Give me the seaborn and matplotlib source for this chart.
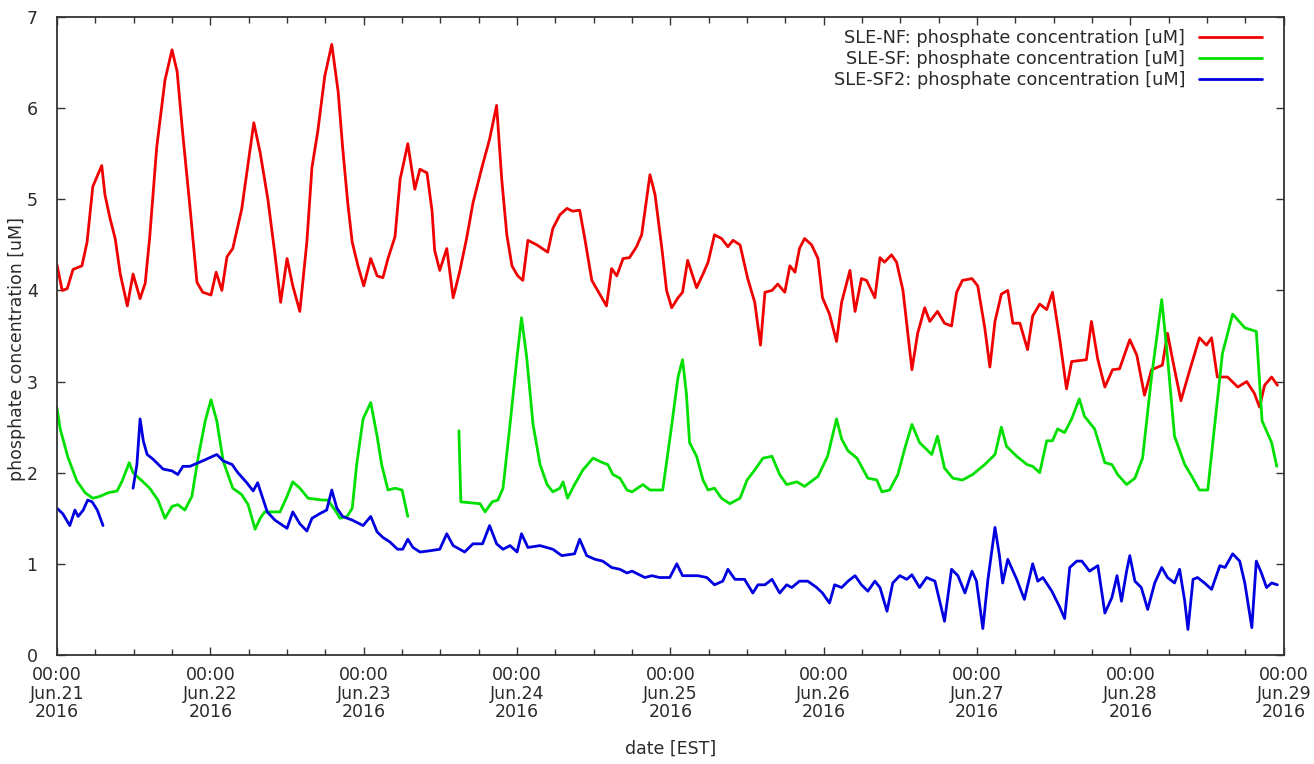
import numpy as np
import pandas as pd
import matplotlib
matplotlib.use("Agg")
import matplotlib.pyplot as plt
import matplotlib.dates as mdates
import seaborn as sns

# hours after 2016-06-21 00:00 EST, phosphate concentration [uM]; NaN marks a gap
nf_hours = [0.0, 0.8, 1.6, 2.5, 3.9, 4.7, 5.6, 7.0, 7.5, 8.3, 9.1, 9.9, 11.0, 11.9, 13.0, 13.8,
            14.5, 15.6, 16.9, 18.0, 18.8, 19.7, 20.8, 21.9, 22.8, 24.1, 24.9, 25.8, 26.6, 27.5,
            28.9, 29.9, 30.8, 31.8, 33.0, 34.1, 35.0, 36.0, 36.9, 38.0, 39.1, 39.9, 40.8, 41.9,
            43.0, 44.0, 44.7, 45.5, 46.2, 47.1, 48.0, 49.1, 50.1, 51.0, 51.8, 52.9, 53.7, 54.9,
            56.0, 56.8, 57.9, 58.7, 59.1, 59.9, 61.0, 62.0, 63.0, 64.1, 65.1, 66.5, 67.7, 68.8,
            69.6, 70.4, 71.2, 72.1, 72.9, 73.7, 75.1, 76.8, 77.6, 78.7, 79.8, 80.7, 81.8, 82.6,
            83.7, 84.6, 86.0, 86.8, 87.6, 88.6, 89.6, 90.7, 91.5, 92.8, 93.6, 94.7, 95.4, 96.2,
            97.2, 97.9, 98.7, 100.1, 101.1, 101.9, 102.9, 104.0, 105.0, 105.8, 106.9, 108.1,
            109.2, 110.1, 110.8, 111.9, 112.8, 113.9, 114.7, 115.5, 116.2, 117.0, 118.1, 119.1,
            119.8, 120.9, 122.0, 122.8, 124.1, 124.9, 125.9, 126.7, 128.0, 128.8, 129.5, 130.6,
            131.4, 132.4, 133.1, 133.8, 134.7, 135.8, 136.6, 137.8, 138.9, 140.0, 140.8, 141.7,
            143.2, 144.1, 145.2, 146.0, 146.8, 147.8, 148.8, 149.6, 150.7, 151.9, 152.7, 153.8,
            154.9, 155.8, 156.9, 158.0, 158.8, 161.1, 161.9, 162.9, 164.0, 165.2, 166.3, 167.9,
            169.0, 170.2, 171.3, 173.0, 173.8, 174.6, 175.9, 177.3, 178.8, 179.9, 180.7, 181.6,
            183.2, 184.8, 186.2, 187.4, 188.2, 189.0, 190.1, 191.0]
nf_values = [4.28, 4.00, 4.02, 4.23, 4.27, 4.53, 5.14, 5.37, 5.05, 4.79, 4.57, 4.18, 3.83, 4.18,
             3.91, 4.08, 4.58, 5.57, 6.31, 6.64, 6.40, 5.70, 4.92, 4.09, 3.98, 3.95, 4.20, 4.00,
             4.37, 4.46, 4.89, 5.39, 5.84, 5.51, 5.00, 4.40, 3.87, 4.35, 4.05, 3.77, 4.53, 5.35,
             5.74, 6.35, 6.70, 6.18, 5.57, 4.96, 4.53, 4.27, 4.05, 4.35, 4.16, 4.14, 4.35, 4.59,
             5.22, 5.61, 5.11, 5.33, 5.29, 4.87, 4.44, 4.22, 4.46, 3.92, 4.20, 4.57, 4.96, 5.35,
             5.66, 6.03, 5.22, 4.61, 4.27, 4.16, 4.11, 4.55, 4.50, 4.42, 4.68, 4.83, 4.90, 4.87,
             4.88, 4.57, 4.11, 4.00, 3.83, 4.24, 4.16, 4.35, 4.36, 4.48, 4.61, 5.27, 5.05, 4.44,
             4.00, 3.81, 3.92, 3.98, 4.33, 4.03, 4.18, 4.31, 4.61, 4.57, 4.48, 4.55, 4.50, 4.13,
             3.87, 3.40, 3.98, 4.00, 4.07, 3.98, 4.27, 4.20, 4.46, 4.57, 4.50, 4.35, 3.92, 3.74,
             3.44, 3.87, 4.22, 3.77, 4.13, 4.11, 3.92, 4.36, 4.31, 4.39, 4.31, 4.00, 3.57, 3.13,
             3.53, 3.81, 3.66, 3.77, 3.64, 3.61, 3.98, 4.11, 4.13, 4.05, 3.59, 3.16, 3.66, 3.96,
             4.00, 3.64, 3.64, 3.35, 3.72, 3.85, 3.79, 3.98, 3.48, 2.92, 3.22, 3.24, 3.66, 3.24,
             2.94, 3.13, 3.14, 3.46, 3.29, 2.85, 3.13, 3.18, 3.53, 3.24, 2.79, 3.13, 3.48, 3.40,
             3.48, 3.05, 3.05, 2.94, 3.00, 2.87, 2.72, 2.96, 3.05, 2.96]

sf_hours = [0.0, 0.5, 1.7, 3.1, 4.4, 5.6, 6.7, 8.0, 9.4, 10.2, 11.3, 11.9, 13.3, 14.5, 15.8, 16.9,
            18.0, 18.9, 20.0, 21.1, 22.1, 23.2, 24.1, 25.0, 26.0, 27.5, 28.9, 29.9, 31.0, 31.8,
            32.5, 34.9, 36.0, 36.9, 38.0, 39.3, 41.5, 42.4, 43.5, 44.3, 45.4, 46.2, 46.9, 47.9,
            49.1, 50.1, 50.8, 51.8, 52.9, 54.0, 54.9, 58.0,
            62.9, 63.2, 66.2, 67.0, 68.1, 69.0, 69.8, 70.9, 72.0, 72.7, 73.5, 74.5, 75.6, 76.7,
            77.6, 78.7, 79.2, 79.9, 81.0, 82.3, 83.9, 85.4, 86.2, 87.0, 88.1, 89.2, 90.0, 91.7,
            92.8, 94.8, 96.2, 97.2, 97.9, 98.5, 99.0, 100.1, 101.1, 101.9, 102.9, 104.0, 105.3,
            106.9, 108.0, 109.2, 110.5, 111.9, 113.1, 114.2, 115.8, 117.0, 119.1, 120.6, 122.0,
            122.8, 123.8, 125.2, 126.9, 128.3, 129.1, 130.3, 131.6, 132.7, 133.8, 135.0, 136.9,
            137.8, 138.9, 140.2, 141.7, 143.3, 145.2, 146.8, 147.8, 148.6, 150.2, 151.8, 152.7,
            153.8, 154.9, 155.8, 156.6, 157.7, 158.8, 160.0, 160.8, 162.4, 164.0, 165.1, 166.0,
            167.4, 168.7, 169.9, 171.3, 172.9, 173.8, 174.9, 176.5, 177.6, 178.8, 180.1, 181.2,
            182.4, 184.0, 185.9, 187.7, 188.6, 190.1, 190.9]
sf_values = [2.71, 2.48, 2.17, 1.91, 1.78, 1.72, 1.74, 1.78, 1.80, 1.91, 2.11, 2.00, 1.91, 1.83,
             1.70, 1.50, 1.63, 1.65, 1.59, 1.74, 2.17, 2.57, 2.80, 2.57, 2.13, 1.83, 1.76, 1.65,
             1.38, 1.50, 1.57, 1.57, 1.74, 1.90, 1.83, 1.72, 1.70, 1.70, 1.59, 1.50, 1.52, 1.61,
             2.09, 2.59, 2.77, 2.40, 2.09, 1.81, 1.83, 1.81, 1.52, np.nan,
             2.46, 1.68, 1.66, 1.57, 1.68, 1.70, 1.83, 2.53, 3.27, 3.70, 3.27, 2.53, 2.09, 1.87,
             1.79, 1.83, 1.90, 1.72, 1.87, 2.03, 2.16, 2.11, 2.09, 1.98, 1.94, 1.81, 1.79, 1.87,
             1.81, 1.81, 2.52, 3.05, 3.24, 2.87, 2.33, 2.18, 1.92, 1.81, 1.83, 1.72, 1.66, 1.72,
             1.92, 2.03, 2.16, 2.18, 1.98, 1.87, 1.90, 1.85, 1.96, 2.18, 2.59, 2.37, 2.24, 2.16,
             1.94, 1.92, 1.79, 1.81, 1.98, 2.27, 2.53, 2.33, 2.20, 2.40, 2.05, 1.94, 1.92, 1.98,
             2.09, 2.20, 2.50, 2.29, 2.18, 2.09, 2.07, 2.00, 2.35, 2.35, 2.48, 2.44, 2.59, 2.81,
             2.62, 2.48, 2.11, 2.09, 1.98, 1.87, 1.94, 2.16, 3.05, 3.90, 3.27, 2.40, 2.09, 1.96,
             1.81, 1.81, 2.53, 3.31, 3.74, 3.59, 3.55, 2.57, 2.33, 2.07]

sf2_hours = [0.0, 0.9, 2.0, 2.8, 3.3, 4.1, 4.8, 5.5, 6.3, 7.2, 9.0,
             11.9, 12.5, 13.0, 13.5, 14.1, 15.0, 16.6, 18.0, 18.9, 19.7, 20.8, 22.8, 25.0, 26.0,
             27.4, 28.3, 29.7, 30.7, 31.4, 32.9, 34.1, 36.0, 36.9, 38.0, 39.1, 39.9, 41.1, 42.2,
             43.0, 43.8, 44.7, 46.2, 47.9, 49.1, 50.1, 51.0, 52.1, 53.3, 54.1, 54.9, 55.7, 56.8,
             58.0, 59.9, 61.0, 62.0, 63.8, 65.1, 66.6, 67.7, 68.8, 69.8, 70.9, 72.0, 72.7, 73.7,
             75.6, 77.6, 79.0, 81.0, 81.8, 82.9, 84.2, 85.4, 86.8, 88.1, 89.2, 90.0, 92.0, 93.1,
             94.3, 95.9, 97.0, 97.9, 100.3, 101.7, 102.9, 104.2, 105.0, 106.1, 107.6, 108.9,
             109.7, 110.8, 111.9, 113.1, 114.2, 115.0, 116.2, 117.5, 118.9, 119.8, 120.9, 121.7,
             122.8, 123.8, 124.9, 125.9, 126.9, 128.0, 128.8, 129.9, 130.8, 131.9, 133.0, 133.8,
             135.0, 136.1, 137.4, 138.9, 140.0, 141.0, 142.1, 143.2, 143.9, 144.9, 145.7, 146.8,
             147.5, 148.0, 148.8, 150.2, 151.4, 152.7, 153.5, 154.3, 155.7, 156.9, 157.7, 158.5,
             159.6, 160.4, 161.6, 162.9, 164.0, 165.1, 165.9, 166.6, 167.4, 167.9, 168.7, 169.7,
             170.7, 171.8, 172.9, 173.8, 174.9, 175.7, 176.5, 177.0, 177.8, 178.5, 179.6, 180.7,
             182.0, 182.8, 184.0, 185.1, 185.9, 187.0, 187.7, 188.5, 189.3, 190.1, 191.0]
sf2_values = [1.61, 1.55, 1.42, 1.59, 1.52, 1.59, 1.70, 1.68, 1.59, 1.42, np.nan,
              1.83, 2.09, 2.59, 2.35, 2.20, 2.15, 2.04, 2.02, 1.98, 2.07, 2.07, 2.13, 2.20, 2.13,
              2.09, 2.00, 1.89, 1.80, 1.89, 1.57, 1.48, 1.39, 1.57, 1.44, 1.36, 1.50, 1.55, 1.59,
              1.81, 1.61, 1.52, 1.48, 1.42, 1.52, 1.35, 1.29, 1.24, 1.16, 1.16, 1.27, 1.18, 1.13,
              1.14, 1.16, 1.33, 1.20, 1.13, 1.22, 1.22, 1.42, 1.22, 1.16, 1.20, 1.13, 1.33, 1.18,
              1.20, 1.16, 1.09, 1.11, 1.27, 1.09, 1.05, 1.03, 0.96, 0.94, 0.90, 0.92, 0.85, 0.87,
              0.85, 0.85, 1.00, 0.87, 0.87, 0.85, 0.77, 0.81, 0.94, 0.83, 0.83, 0.68, 0.77, 0.77,
              0.83, 0.68, 0.77, 0.74, 0.81, 0.81, 0.74, 0.68, 0.57, 0.77, 0.74, 0.81, 0.87, 0.77,
              0.70, 0.81, 0.74, 0.48, 0.79, 0.87, 0.83, 0.88, 0.74, 0.85, 0.81, 0.37, 0.94, 0.87,
              0.68, 0.92, 0.81, 0.29, 0.83, 1.40, 1.09, 0.79, 1.05, 0.83, 0.61, 1.00, 0.81, 0.85,
              0.70, 0.53, 0.40, 0.96, 1.03, 1.03, 0.92, 0.98, 0.46, 0.63, 0.87, 0.59, 0.92, 1.09,
              0.81, 0.74, 0.50, 0.79, 0.96, 0.85, 0.79, 0.94, 0.59, 0.28, 0.83, 0.85, 0.79, 0.72,
              0.98, 0.96, 1.11, 1.03, 0.79, 0.30, 1.03, 0.90, 0.74, 0.79, 0.77]

series_labels = ["SLE-NF: phosphate concentration [uM]",
                 "SLE-SF: phosphate concentration [uM]",
                 "SLE-SF2: phosphate concentration [uM]"]
series_colors = ["#f00000", "#00e000", "#0000e0"]

start = pd.Timestamp("2016-06-21 00:00")
end = pd.Timestamp("2016-06-29 00:00")

sns.set_style("ticks")
plt.rcParams["font.family"] = ["DejaVu Sans"]
text_color = "#2a2a2a"

fig = plt.figure(figsize=(13.14, 7.64), dpi=100)
ax = fig.add_axes([0.0434, 0.1427, 0.9336, 0.835])

for hours, values, label, color in zip([nf_hours, sf_hours, sf2_hours],
                                       [nf_values, sf_values, sf2_values],
                                       series_labels, series_colors):
    df = pd.DataFrame({"hours": hours, "value": values})
    df["time"] = start + pd.to_timedelta(df["hours"], unit="h")
    # split at NaN gaps so the segments stay separate
    df["seg"] = df["value"].isna().cumsum()
    df = df.dropna()
    first = True
    for _, seg in df.groupby("seg"):
        sns.lineplot(data=seg, x="time", y="value", ax=ax, color=color, linewidth=2.0,
                     label=label if first else None, legend=False, estimator=None, sort=False)
        first = False

ax.set_xlim(start, end)
ax.set_ylim(0, 7)
ax.set_yticks(range(0, 8))
ax.xaxis.set_major_locator(mdates.DayLocator())
ax.xaxis.set_minor_locator(mdates.HourLocator(byhour=[6, 12, 18]))
ax.xaxis.set_major_formatter(mdates.DateFormatter("%H:%M\n%b.%d\n%Y"))

ax.tick_params(which="both", direction="in", top=True, right=True, color="#333333",
               labelcolor=text_color, labelsize=12.5, width=1.0)
ax.tick_params(which="major", length=6)
ax.tick_params(which="minor", length=4)
ax.tick_params(axis="x", which="major", pad=8)
ax.tick_params(axis="y", which="major", pad=14)
for lab in ax.get_xticklabels():
    lab.set_linespacing(1.05)
for s in ax.spines.values():
    s.set_linewidth(1.3)
    s.set_color("#333333")

ax.set_xlabel("date [EST]", fontsize=12.5, color=text_color)
ax.xaxis.set_label_coords(0.5, -0.133)
ax.set_ylabel("phosphate concentration [uM]", fontsize=12.5, color=text_color)
ax.yaxis.set_label_coords(-0.0255, 0.48)

handles, labels = ax.get_legend_handles_labels()
ax.legend(handles, labels, loc="upper right", frameon=False, markerfirst=False,
          fontsize=12.8, handlelength=3.5, handletextpad=0.8, labelspacing=0.15,
          borderaxespad=0.3, bbox_to_anchor=(0.992, 1.0), labelcolor=text_color)

fig.savefig("out.png", dpi=100)
